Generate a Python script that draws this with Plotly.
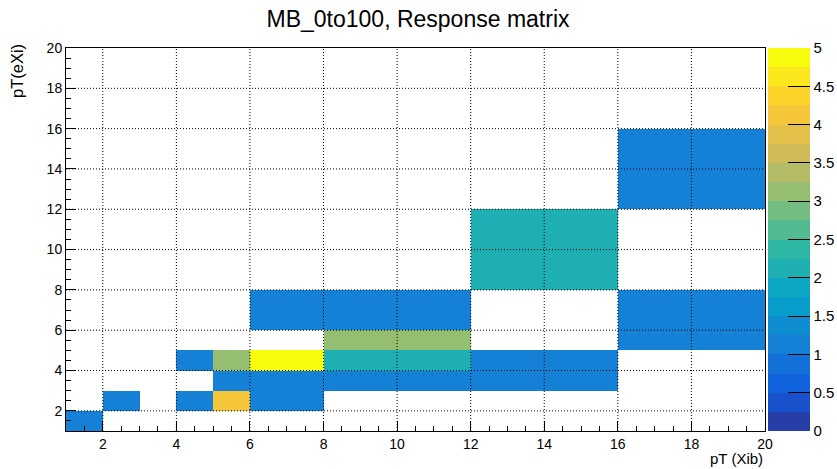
import numpy as np
import plotly.graph_objects as go

# ---- data ----
x_edges = [1, 2, 3, 4, 5, 6, 8, 12, 16, 20]
y_edges = [1, 2, 3, 4, 5, 6, 8, 12, 16, 20]
# rows: y bins (bottom to top), columns: x bins (left to right); None = empty
z_rows = [
    [1, None, None, None, None, None, None, None, None],   # y 1-2
    [None, 1, None, 1, 4, 1, None, None, None],            # y 2-3
    [None, None, None, None, 1, 1, 1, 1, None],            # y 3-4
    [None, None, None, 1, 3, 5, 2, 1, None],               # y 4-5
    [None, None, None, None, None, None, 3, None, 1],      # y 5-6
    [None, None, None, None, None, 1, 1, None, 1],         # y 6-8
    [None, None, None, None, None, None, None, 2, None],   # y 8-12
    [None, None, None, None, None, None, None, None, 1],   # y 12-16
    [None, None, None, None, None, None, None, None, None],# y 16-20
]
x_ticks = [2, 4, 6, 8, 10, 12, 14, 16, 18, 20]
y_ticks = [2, 4, 6, 8, 10, 12, 14, 16, 18, 20]
z_min, z_max = 0, 5
cb_ticks = [0, 0.5, 1, 1.5, 2, 2.5, 3, 3.5, 4, 4.5, 5]

# ---- ROOT kBird palette, 20 contour bands ----
stops = [0.0, 0.125, 0.25, 0.375, 0.5, 0.625, 0.75, 0.875, 1.0]
red = [0.2082, 0.0592, 0.0780, 0.0232, 0.1802, 0.5301, 0.8186, 0.9956, 0.9764]
green = [0.1664, 0.3599, 0.5041, 0.6419, 0.7178, 0.7492, 0.7328, 0.7862, 0.9832]
blue = [0.5293, 0.8684, 0.8385, 0.7914, 0.6425, 0.4662, 0.3499, 0.1968, 0.0539]
nb = 20
colorscale = []
eps = 1e-4
for i in range(nb):
    f = int((i + 0.99) * 255 / nb) / 254.0
    r = np.interp(f, stops, red); g = np.interp(f, stops, green); b = np.interp(f, stops, blue)
    c = "rgb(%d,%d,%d)" % (round(r * 255), round(g * 255), round(b * 255))
    lo = 0.0 if i == 0 else i / nb - eps
    hi = 1.0 if i == nb - 1 else (i + 1) / nb - eps
    colorscale.append([lo, c])
    colorscale.append([hi, c])

W, H = 837, 469
L, R, T, B = 66, 837 - 765, 48, 469 - 431
pw = W - L - R
ph = H - T - B

fig = go.Figure()
fig.add_trace(go.Heatmap(
    x=x_edges, y=y_edges, z=z_rows,
    zmin=z_min, zmax=z_max, colorscale=colorscale,
    hoverongaps=False, xgap=0, ygap=0,
    colorbar=dict(
        x=(768 - L) / pw, xanchor="left", xref="paper",
        y=0.5, yanchor="middle", len=1.0, lenmode="fraction",
        thickness=42, thicknessmode="pixels",
        outlinewidth=0,
        tickmode="array", tickvals=cb_ticks,
        ticktext=[("%g" % v) for v in cb_ticks],
        ticks="inside", ticklen=22, tickcolor="black", tickwidth=1,
        tickfont=dict(family="Liberation Sans", size=15, color="black"),
        xpad=0, ypad=0,
    ),
))

# dotted grid drawn above the cells, as in ROOT
for xv in x_ticks[:-1]:
    fig.add_shape(type="line", xref="x", yref="y", x0=xv, x1=xv, y0=1, y1=20,
                  line=dict(color="black", width=1, dash="1px,2px"), layer="above")
for yv in y_ticks[:-1]:
    fig.add_shape(type="line", xref="x", yref="y", x0=1, x1=20, y0=yv, y1=yv,
                  line=dict(color="black", width=1, dash="1px,2px"), layer="above")

axis_common = dict(
    showgrid=False, zeroline=False, showline=True, mirror=True,
    linecolor="black", linewidth=1,
    ticks="inside", ticklen=10, tickcolor="black", tickwidth=1,
    minor=dict(ticks="inside", ticklen=5, dtick=0.5, tickcolor="black", showgrid=False),
    tickfont=dict(family="Liberation Sans", size=14, color="black"),
    range=[1, 20], tickmode="array",
)
fig.update_xaxes(**axis_common, tickvals=x_ticks, ticktext=[str(v) for v in x_ticks])
fig.update_yaxes(**axis_common, tickvals=y_ticks, ticktext=[str(v) for v in y_ticks])

fig.update_layout(
    width=W, height=H,
    margin=dict(l=L, r=R, t=T, b=B, pad=0, autoexpand=False),
    paper_bgcolor="white", plot_bgcolor="white",
    font=dict(family="Liberation Sans", color="black"),
    title=dict(text="MB_0to100, Response matrix", x=418 / W, xref="container",
               xanchor="center", y=1 - 19 / H, yref="container", yanchor="middle",
               font=dict(family="Liberation Sans", size=23, color="black")),
    showlegend=False,
    annotations=[
        dict(text="pT (Xib)", xref="paper", yref="paper", x=1.0, y=-(458 - 431) / ph,
             xanchor="right", yanchor="middle", showarrow=False,
             font=dict(family="Liberation Sans", size=15, color="black")),
        dict(text="pT(eXi)", xref="paper", yref="paper", x=(17 - L) / pw, y=1 + (48 - 42) / ph,
             xanchor="center", yanchor="top", textangle=-90, showarrow=False,
             font=dict(family="Liberation Sans", size=16.5, color="black")),
    ],
)

fig.write_html("out.html")
